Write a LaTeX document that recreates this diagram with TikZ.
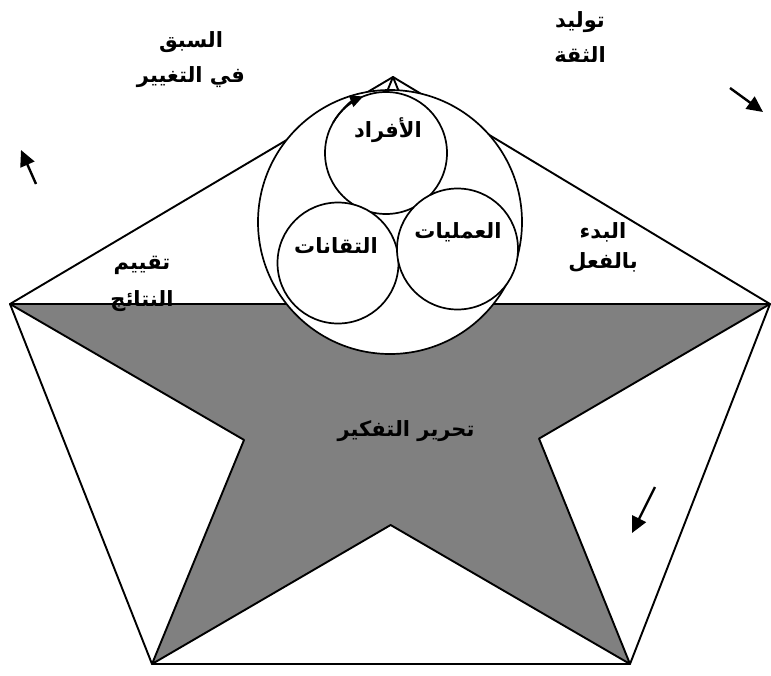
\documentclass[tikz,border=0pt]{standalone}
\usepackage{fontspec}
\TeXXeTstate=1
\newfontfamily\arabicfont[Script=Arabic]{DejaVu Sans}
\usetikzlibrary{arrows.meta}
\definecolor{stargray}{RGB}{128,128,128}
\tikzset{
  edge/.style={line width=1.9pt, line join=round},
  ring/.style={line width=1.7pt, fill=white},
  lbl/.style={font=\arabicfont\bfseries\fontsize{21}{35}\selectfont, align=center, inner sep=0pt},
  freearrow/.style={line width=2.4pt, -{Triangle[length=16pt,width=15pt]}},
}
\begin{document}
\begin{tikzpicture}[x=1pt,y=-1pt]
\useasboundingbox (0,0) rectangle (771,675);
% pentagon vertices
\coordinate (T) at (393,77);
\coordinate (R) at (770,304);
\coordinate (BR) at (630,664);
\coordinate (BL) at (152,664);
\coordinate (L) at (10,304);
% star inner points
\coordinate (IL) at (intersection cs:first line={(T)--(BL)}, second line={(L)--(R)});
\coordinate (IR) at (intersection cs:first line={(T)--(BR)}, second line={(L)--(R)});
\coordinate (LL) at (intersection cs:first line={(T)--(BL)}, second line={(L)--(BR)});
\coordinate (LR) at (intersection cs:first line={(T)--(BR)}, second line={(R)--(BL)});
\coordinate (B) at (intersection cs:first line={(L)--(BR)}, second line={(R)--(BL)});
% pentagon
\draw[edge] (T) -- (R) -- (BR) -- (BL) -- (L) -- cycle;
% grey star (lower part)
\draw[edge, fill=stargray] (L) -- (R) -- (LR) -- (BR) -- (B) -- (BL) -- (LL) -- cycle;
% top arm of the star
\draw[edge] (IL) -- (T) -- (IR);
% circles
\coordinate (cbig) at (390,222);
\coordinate (ctop) at (386,153);
\coordinate (cleft) at (338,263);
\coordinate (cright) at (457.5,249);
\draw[ring] (cbig) circle (132);
\draw[ring] (ctop) circle (61);
\draw[ring] (cleft) circle (60.5);
\draw[ring] (cright) circle (60.5);
% arrow on the top circle
\draw[line width=1.7pt, -{Triangle[length=13pt,width=12pt]}] ([shift={(-150:61)}]ctop) arc (-150:-112:61);
% circle labels
\node[lbl] (afrad) at (388,130) {\beginR الأفراد\endR};
\node[lbl] (amaliyat) at (458,232) {\beginR العمليات\endR};
\node[lbl] (tiqanat) at (336,246) {\beginR التقانات\endR};
% outer labels
\node[lbl] (sabq) at (191,60) {\beginR السبق\endR\\\beginR في التغيير\endR};
\node[lbl] (tawlid) at (580,37) {\beginR توليد\endR\\\beginR الثقة\endR};
\node[lbl, font=\arabicfont\bfseries\fontsize{21}{37}\selectfont] (taqyim) at (142,284) {\beginR تقييم\endR\\\beginR النتائج\endR};
\node[lbl, font=\arabicfont\bfseries\fontsize{21}{30}\selectfont] (bad) at (603,247) {\beginR البدء\endR\\\beginR بالفعل\endR};
\node[lbl] (tahrir) at (406,431) {\beginR تحرير التفكير\endR};
% free arrows
\coordinate (a1s) at (36,184); \coordinate (a1e) at (21,150);
\coordinate (a2s) at (730,88); \coordinate (a2e) at (763,112);
\coordinate (a3s) at (655,487); \coordinate (a3e) at (632,533);
\draw[freearrow] (a1s) -- (a1e);
\draw[freearrow] (a2s) -- (a2e);
\draw[freearrow] (a3s) -- (a3e);
\end{tikzpicture}
\end{document}
